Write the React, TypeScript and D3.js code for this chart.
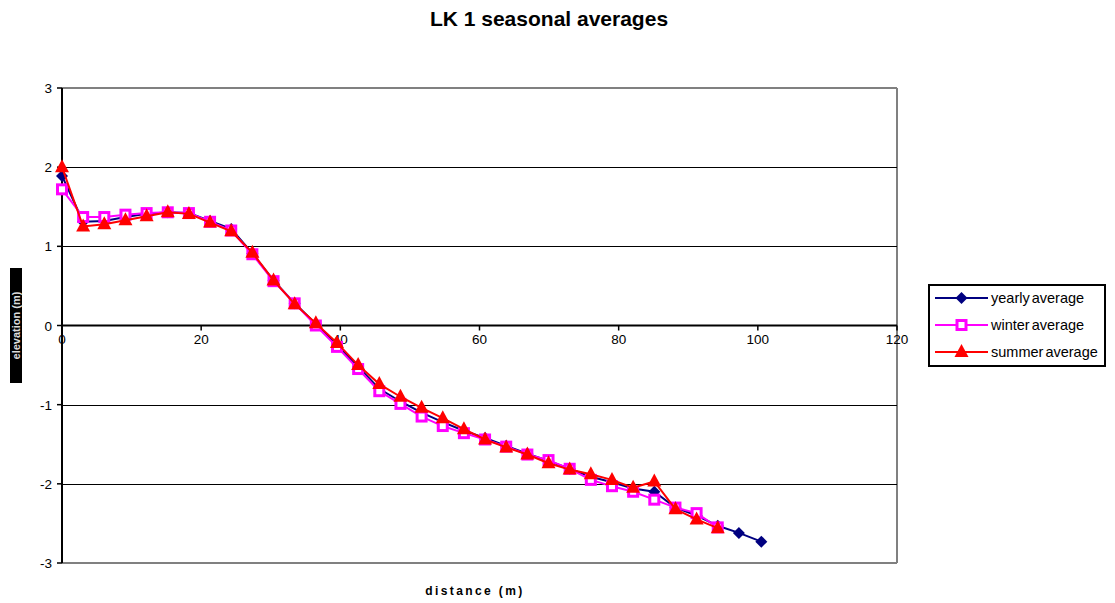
import React from "react";
import * as d3 from "d3";

const distances = [0, 3.04, 6.08, 9.12, 12.16, 15.2, 18.24, 21.28, 24.32, 27.36, 30.4, 33.44, 36.48, 39.52, 42.56, 45.6, 48.64, 51.68, 54.72, 57.76, 60.8, 63.84, 66.88, 69.92, 72.96, 76.0, 79.04, 82.08, 85.12, 88.16, 91.2, 94.24, 97.28, 100.5];

const yearly = [1.89, 1.31, 1.32, 1.37, 1.41, 1.43, 1.42, 1.32, 1.22, 0.91, 0.57, 0.28, 0.02, -0.25, -0.52, -0.8, -0.96, -1.1, -1.22, -1.33, -1.42, -1.52, -1.62, -1.71, -1.81, -1.91, -1.98, -2.06, -2.1, -2.3, -2.4, -2.53, -2.62, -2.73];
const winter = [1.72, 1.37, 1.37, 1.4, 1.42, 1.43, 1.42, 1.31, 1.2, 0.9, 0.56, 0.28, 0.0, -0.27, -0.55, -0.83, -0.99, -1.15, -1.27, -1.36, -1.44, -1.53, -1.63, -1.7, -1.81, -1.95, -2.03, -2.1, -2.2, -2.3, -2.37, -2.55];
const summer = [2.0, 1.25, 1.28, 1.33, 1.38, 1.43, 1.41, 1.3, 1.19, 0.92, 0.57, 0.27, 0.03, -0.22, -0.5, -0.74, -0.9, -1.04, -1.17, -1.31, -1.44, -1.54, -1.63, -1.74, -1.82, -1.88, -1.95, -2.05, -1.97, -2.32, -2.45, -2.56];

const xTicks = [0, 20, 40, 60, 80, 100, 120];
const yTicks = [3, 2, 1, 0, -1, -2, -3];
const seriesNames = ["yearly average", "winter average", "summer average"];

const W = 1115, H = 603;
const L = 62, R = 897, T = 88, B = 563;

export default function App() {
  const x = d3.scaleLinear().domain([0, 120]).range([L, R]);
  const y = d3.scaleLinear().domain([-3, 3]).range([B, T]);
  const line = d3.line<[number, number]>().x(d => x(d[0])).y(d => y(d[1]));
  const pts = (vals: number[]) => vals.map((v, i) => [distances[i], v] as [number, number]);

  const diamond = (cx: number, cy: number, k: string | number) => (
    <path key={k} d={`M${cx},${cy - 6}L${cx + 6},${cy}L${cx},${cy + 6}L${cx - 6},${cy}Z`} fill="#000080" />
  );
  const square = (cx: number, cy: number, k: string | number) => (
    <rect key={k} x={cx - 4.5} y={cy - 4.5} width={9} height={9} fill="#fff" stroke="#FF00FF" strokeWidth={3} />
  );
  const tri = (cx: number, cy: number, k: string | number) => (
    <path key={k} d={`M${cx},${cy - 8}L${cx + 7},${cy + 5}L${cx - 7},${cy + 5}Z`} fill="#FF0000" />
  );

  const legendY = [298, 325, 352];
  const colors = ["#000080", "#FF00FF", "#FF0000"];
  const markers = [diamond, square, tri];

  return (
    <svg width={W} height={H} style={{ position: "absolute", left: 0, top: 0 }} fontFamily="Arial, 'Liberation Sans', sans-serif">
      <rect x={0} y={0} width={W} height={H} fill="#fff" />
      <text x={549} y={26} textAnchor="middle" fontSize={21} fontWeight="bold">LK 1 seasonal averages</text>
      {/* plot frame */}
      <line x1={L} y1={T} x2={R} y2={T} stroke="#808080" strokeWidth={2} />
      <line x1={R} y1={T} x2={R} y2={B} stroke="#808080" strokeWidth={2} />
      <line x1={L} y1={B} x2={R} y2={B} stroke="#808080" strokeWidth={2} />
      {/* gridlines */}
      {yTicks.filter(t => t !== 3 && t !== -3 && t !== 0).map(t => (
        <line key={t} x1={L} x2={R} y1={Math.round(y(t)) + 0.5} y2={Math.round(y(t)) + 0.5} stroke="#000" strokeWidth={1} />
      ))}
      <line x1={L} x2={R} y1={y(0)} y2={y(0)} stroke="#000" strokeWidth={2} />
      <line x1={L} x2={L} y1={T} y2={B} stroke="#000" strokeWidth={2} />
      {yTicks.map(t => (
        <g key={t}>
          <line x1={L - 5} x2={L} y1={y(t)} y2={y(t)} stroke="#000" strokeWidth={1.5} />
          <text x={52} y={y(t) + 5} textAnchor="end" fontSize={13.5}>{t}</text>
        </g>
      ))}
      {xTicks.map(t => (
        <g key={t}>
          <line x1={x(t)} x2={x(t)} y1={y(0)} y2={y(0) + 5} stroke="#000" strokeWidth={1.5} />
          <text x={x(t)} y={y(0) + 18.5} textAnchor="middle" fontSize={13.5}>{t}</text>
        </g>
      ))}
      {/* y label */}
      <rect x={10} y={268} width={12} height={115} fill="#000" />
      <text transform="translate(19.5,325.5) rotate(-90)" textAnchor="middle" fontSize={11} fill="#ddd" fontWeight="bold">elevation (m)</text>
      <text x={475} y={595} textAnchor="middle" fontSize={12} fontWeight="bold" letterSpacing={2.4}>distance (m)</text>
      {/* series */}
      <path d={line(pts(yearly)) || ""} fill="none" stroke="#000080" strokeWidth={2} />
      {pts(yearly).map((p, i) => diamond(x(p[0]), y(p[1]), "y" + i))}
      <path d={line(pts(winter)) || ""} fill="none" stroke="#FF00FF" strokeWidth={2} />
      {pts(winter).map((p, i) => square(x(p[0]), y(p[1]), "w" + i))}
      <path d={line(pts(summer)) || ""} fill="none" stroke="#FF0000" strokeWidth={2} />
      {pts(summer).map((p, i) => tri(x(p[0]), y(p[1]), "s" + i))}
      {/* legend */}
      <rect x={929} y={285} width={176} height={81} fill="#fff" stroke="#000" strokeWidth={2} />
      {seriesNames.map((n, i) => (
        <g key={n}>
          <line x1={935} x2={988} y1={legendY[i]} y2={legendY[i]} stroke={colors[i]} strokeWidth={2} />
          {markers[i](961.5, legendY[i], "l" + i)}
          <text x={991} y={legendY[i] + 5} fontSize={14.5} wordSpacing={-2}>{n}</text>
        </g>
      ))}
    </svg>
  );
}
